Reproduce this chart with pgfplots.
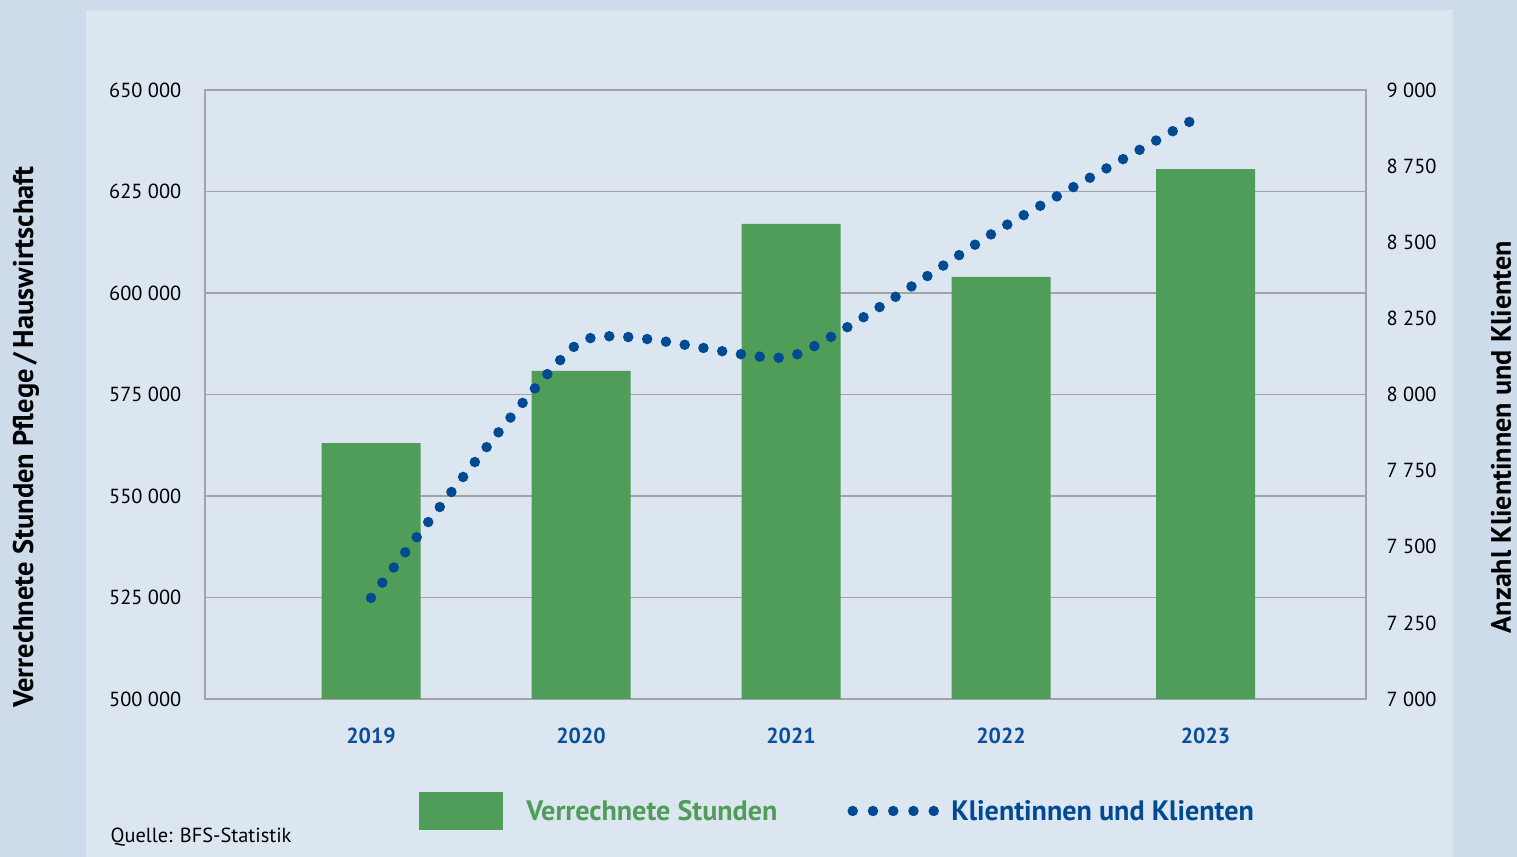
\documentclass[border=0pt]{standalone}
\usepackage{pgfplots}
\pgfplotsset{compat=1.18}
\usepackage{fontspec}
\setmainfont{PT Sans}
\definecolor{outerbg}{HTML}{CDDBEA}
\definecolor{innerbg}{HTML}{DCE6F0}
\definecolor{bargreen}{HTML}{509D59}
\definecolor{dotblue}{HTML}{004A93}
\definecolor{yearblue}{HTML}{0B4F9C}
\definecolor{gridgray}{HTML}{A3A3A3}
\begin{document}
\begin{tikzpicture}
\path[use as bounding box] (0,0) rectangle (151.7mm,85.7mm);
\fill[outerbg] (0,0) rectangle (151.7mm,85.7mm);
\fill[innerbg] (8.6mm,0) rectangle (145.3mm,84.7mm);
\begin{axis}[
  at={(20.5mm,15.8mm)}, anchor=south west,
  scale only axis, width=116.1mm, height=60.9mm,
  xmin=-0.7905, xmax=4.738,
  ymin=500000, ymax=650000,
  ytick={500000,525000,550000,575000,600000,625000,650000},
  xtick={0,1,2,3,3.974},
  xticklabels={2019,2020,2021,2022,2023},
  xtick style={draw=none}, ytick style={draw=none},
  ymajorgrids, grid style={gridgray, line width=0.55pt},
  axis line style={gridgray, line width=0.45pt},
  /pgf/number format/assume math mode=true,
  /pgf/number format/fixed,
  /pgf/number format/1000 sep={\ },
  scaled y ticks=false,
  yticklabel style={font=\fontsize{5.8}{7}\selectfont, inner xsep=0pt, xshift=-2.3mm, anchor=east},
  xticklabel style={font=\fontsize{6.2}{7}\selectfont\bfseries, text=yearblue, inner sep=0pt, yshift=-2.8mm, anchor=north},
]
\addplot[ybar, bar width=9.9mm, fill=bargreen, draw=none] coordinates {
  (0,563000) (1,580800) (2,617000) (3,604000) (3.974,630500)};
\end{axis}
\begin{axis}[
  at={(20.5mm,15.8mm)}, anchor=south west,
  scale only axis, width=116.1mm, height=60.9mm,
  xmin=-0.7905, xmax=4.738,
  ymin=7000, ymax=9000,
  axis x line=none, axis y line*=right,
  ytick={7000,7250,7500,7750,8000,8250,8500,8750,9000},
  ytick style={draw=none},
  axis line style={gridgray, line width=0.45pt},
  /pgf/number format/assume math mode=true,
  /pgf/number format/fixed,
  /pgf/number format/1000 sep={\ },
  scaled y ticks=false,
  yticklabel style={font=\fontsize{5.8}{7}\selectfont, inner xsep=0pt, xshift=2.0mm, anchor=west},
  legend columns=2,
  legend style={at={(axis description cs:0.1843,-0.1839)}, anchor=west,
    draw=none, fill=none, inner sep=0pt, outer sep=0pt,
    font=\fontsize{8}{9}\selectfont\bfseries,
    nodes={inner sep=0pt},
    /tikz/every odd column/.append style={column sep=2.3mm},
    /tikz/every even column/.append style={column sep=7.0mm}},
]
\addlegendimage{legend image code/.code={\fill[bargreen] (0,-1.8mm) rectangle (8.3mm,1.8mm);}}
\addlegendentry{\raisebox{-0.5mm}{\textcolor{bargreen}{Verrechnete Stunden}}}
\addplot[dotblue, line width=1.05mm, line cap=round, dash pattern=on 0pt off 1.9mm, smooth, tension=0.3,
  legend image code/.code={\draw[dotblue, line width=1.05mm, line cap=round, dash pattern=on 0pt off 2.025mm] (0,0) -- (8.15mm,0);}]
  coordinates {(0,7332) (1,8174) (2,8125) (3,8546) (3.974,8925)};
\addlegendentry{\hspace*{-1.1mm}\raisebox{-0.5mm}{\textcolor{dotblue}{Klientinnen und Klienten}}}
\end{axis}
\node[rotate=90, inner sep=0pt, font=\fontsize{8.1}{9}\selectfont\bfseries] at (2.6mm,42.0mm) {Verrechnete Stunden Pflege\,/\,Hauswirtschaft};
\node[rotate=90, inner sep=0pt, font=\fontsize{8.0}{9}\selectfont\bfseries] at (150.1mm,42.0mm) {Anzahl Klientinnen und Klienten};
\node[anchor=base west, inner sep=0pt, font=\fontsize{5.8}{7}\selectfont] at (11.0mm,1.4mm) {Quelle: BFS-Statistik};
\end{tikzpicture}
\end{document}
